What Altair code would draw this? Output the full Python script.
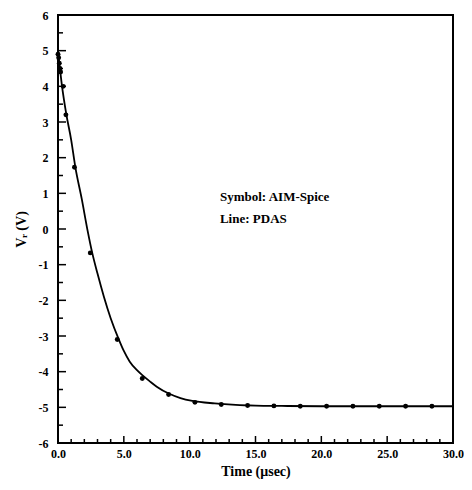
import altair as alt
import pandas as pd

# AIM-Spice symbols
sym_t = [0.0, 0.05, 0.1, 0.15, 0.2, 0.4, 0.6, 1.25, 2.45, 4.5, 6.4, 8.4, 10.4, 12.4, 14.4,
         16.4, 18.4, 20.4, 22.4, 24.4, 26.4, 28.4]
sym_v = [4.9, 4.8, 4.65, 4.5, 4.4, 4.0, 3.2, 1.73, -0.67, -3.1, -4.19, -4.64, -4.86, -4.92, -4.95,
         -4.96, -4.97, -4.97, -4.97, -4.97, -4.97, -4.97]

# PDAS line
line_t = [0.0, 0.3, 0.62, 1.0, 1.32, 1.8, 2.24, 2.6, 3.0, 3.48, 4.0, 4.6, 5.0, 5.45, 6.0, 6.47, 7.0,
          7.5, 8.45, 9.3, 10.2, 11.9, 13.5, 15.0, 17.0, 20.0, 25.0, 30.0]
line_v = [5.0, 4.02, 3.24, 2.5, 1.73, 0.85, -0.03, -0.67, -1.25, -1.89, -2.5, -3.08, -3.42, -3.72, -3.96,
          -4.12, -4.28, -4.42, -4.62, -4.74, -4.82, -4.89, -4.93, -4.95, -4.96, -4.97, -4.97, -4.97]

x_major = [0, 5, 10, 15, 20, 25, 30]
x_minor = [i for i in range(0, 31) if i % 5 != 0]
y_major = list(range(-6, 7))
y_minor = [i + 0.5 for i in range(-6, 6)]

notes = ["Symbol: AIM-Spice", "Line: PDAS"]
note_x = [12.3, 12.3]
note_y = [0.78, 0.17]

W, H = 395, 428
FONT = "Liberation Serif"

xs = alt.Scale(domain=[0, 30], nice=False, zero=False)
ys = alt.Scale(domain=[-6, 6], nice=False, zero=False)

xax = alt.Axis(values=x_major, format=".1f", title="Time (μsec)", ticks=False,
               domain=False, grid=False, labelPadding=5, titlePadding=5,
               labelOverlap=False, labelFlush=False,
               labelFont=FONT, labelFontWeight="bold", labelFontSize=12,
               labelColor="black", titleFont=FONT, titleFontSize=14,
               titleFontWeight="bold", titleColor="black")
yax = alt.Axis(values=y_major, labelExpr="'' + datum.value", title="Vᵣ (V)", ticks=False,
               domain=False, grid=False, labelPadding=10, titlePadding=10,
               labelOverlap=False, labelFlush=False,
               labelFont=FONT, labelFontWeight="bold", labelFontSize=12,
               labelColor="black", titleFont=FONT, titleFontSize=14,
               titleFontWeight="bold", titleColor="black")


def X(f):
    return alt.X(f, scale=xs, axis=xax)


def Y(f):
    return alt.Y(f, scale=ys, axis=yax)


line_df = pd.DataFrame({"t": line_t, "v": line_v})
sym_df = pd.DataFrame({"t": sym_t, "v": sym_v})

line = alt.Chart(line_df).mark_line(color="black", strokeWidth=1.8, interpolate="monotone").encode(
    x=X("t:Q"), y=Y("v:Q"))

pts = alt.Chart(sym_df).mark_circle(color="black", size=24, opacity=1).encode(
    x=X("t:Q"), y=Y("v:Q"))

xmaj = alt.Chart(pd.DataFrame({"t": x_major})).mark_rule(color="black", strokeWidth=1.5).encode(
    x=X("t:Q"), y=alt.value(H), y2=alt.value(H - 7))
xmin = alt.Chart(pd.DataFrame({"t": x_minor})).mark_rule(color="black", strokeWidth=1.5).encode(
    x=X("t:Q"), y=alt.value(H), y2=alt.value(H - 4))
ymaj = alt.Chart(pd.DataFrame({"v": y_major})).mark_rule(color="black", strokeWidth=1.5).encode(
    y=Y("v:Q"), x=alt.value(0), x2=alt.value(8))
ymin = alt.Chart(pd.DataFrame({"v": y_minor})).mark_rule(color="black", strokeWidth=1.5).encode(
    y=Y("v:Q"), x=alt.value(0), x2=alt.value(5))

txt = alt.Chart(pd.DataFrame({"t": note_x, "v": note_y, "s": notes})).mark_text(
    align="left", baseline="alphabetic", font=FONT, fontSize=13, fontWeight="bold", color="black"
).encode(x=X("t:Q"), y=Y("v:Q"), text="s:N")

chart = alt.layer(line, pts, xmaj, xmin, ymaj, ymin, txt).properties(
    width=W, height=H,
    autosize=alt.AutoSizeParams(type="none"),
    padding={"left": 50, "top": 7, "right": 11, "bottom": 39},
).configure_view(stroke="black", strokeWidth=2)

chart.save("out.html", embed_options={"renderer": "svg", "actions": False})
